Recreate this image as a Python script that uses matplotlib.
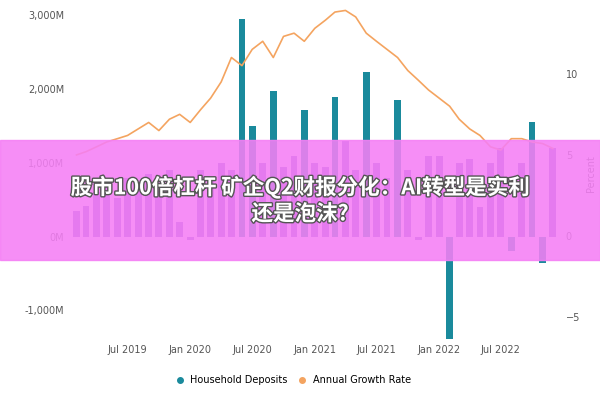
import matplotlib
matplotlib.use("Agg")
import matplotlib.pyplot as plt
import matplotlib.patheffects as pe
import pandas as pd
from matplotlib.patches import Rectangle

months = pd.date_range("2019-02-01", "2022-12-01", freq="MS")
deposits = [350, 420, 600, 680, 520, 800, 700, 850, 620, 900, 200, -50,
            900, 750, 1000, 900, 2950, 1500, 1000, 1980, 950, 1100, 1720, 1000,
            950, 1900, 1300, 900, 2230, 1000, 800, 1850, 900, -50, 1100, 1100,
            -1380, 1000, 1050, 400, 1000, 1200, -200, 1000, 1550, -350, 1200]
growth = [5.0, 5.2, 5.5, 5.8, 6.0, 6.2, 6.6, 7.0, 6.5, 7.2, 7.5, 7.0,
          7.8, 8.5, 9.5, 11.0, 10.5, 11.5, 12.0, 11.0, 12.3, 12.5, 12.0, 12.8,
          13.3, 13.8, 13.9, 13.5, 12.5, 12.0, 11.5, 11.0, 10.2, 9.6, 9.0, 8.5,
          8.0, 7.2, 6.6, 6.2, 5.5, 5.3, 6.0, 6.0, 5.8, 5.7, 5.4]
teal_months = ["2020-06", "2020-07", "2020-09", "2020-12", "2021-03", "2021-06",
               "2021-09", "2022-02", "2022-08", "2022-10", "2022-11"]
tick_dates = ["2019-07", "2020-01", "2020-07", "2021-01", "2021-07", "2022-01", "2022-07"]
tick_labels = ["Jul 2019", "Jan 2020", "Jul 2020", "Jan 2021", "Jul 2021", "Jan 2022", "Jul 2022"]

colors = ["#1a8a9c" if m.strftime("%Y-%m") in teal_months else "#7a5cc9" for m in months]

fig = plt.figure(figsize=(6, 4), dpi=100)
ax = fig.add_axes([0.115, 0.15, 0.82, 0.83])
ax.bar(months, deposits, width=20, color=colors)
ax.set_ylim(-1400, 3100)
ax.set_yticks([-1000, 0, 1000, 2000, 3000])
ax.set_yticklabels(["-1,000M", "0M", "1,000M", "2,000M", "3,000M"])
ax.set_xlim(pd.Timestamp("2019-01-10"), pd.Timestamp("2022-12-25"))
ax.set_xticks(pd.to_datetime(tick_dates))
ax.set_xticklabels(tick_labels)
for s in ax.spines.values():
    s.set_visible(False)
ax.tick_params(length=0, labelsize=7, colors="#555555")

ax2 = ax.twinx()
ax2.plot(months, growth, color="#f4a460", linewidth=1.2)
ax2.set_ylim(-6.4, 14.05)
ax2.set_yticks([-5, 0, 5, 10])
ax2.set_ylabel("Percent", fontsize=7, color="#555555")
for s in ax2.spines.values():
    s.set_visible(False)
ax2.tick_params(length=0, labelsize=7, colors="#555555")

ax.legend(handles=[plt.Line2D([], [], marker="o", ls="", color="#1a8a9c", markersize=4),
                   plt.Line2D([], [], marker="o", ls="", color="#f4a460", markersize=4)],
          labels=["Household Deposits", "Annual Growth Rate"],
          loc="upper center", bbox_to_anchor=(0.45, -0.08), ncol=2, frameon=False,
          fontsize=7, handletextpad=0.1, columnspacing=0.5)

fig.patches.append(Rectangle((0, 0.35), 1, 0.3, transform=fig.transFigure,
                             color="#f57ff5", alpha=0.88, zorder=5))
fig.text(0.5, 0.5, "股市100倍杠杆 矿企Q2财报分化：AI转型是实利\n还是泡沫?",
         ha="center", va="center", fontsize=15.5, fontweight="bold", color="white",
         family=["Noto Sans CJK SC", "DejaVu Sans"], linespacing=1.3, zorder=6,
         path_effects=[pe.withStroke(linewidth=2, foreground="#555555")])

fig.savefig("out.png")
